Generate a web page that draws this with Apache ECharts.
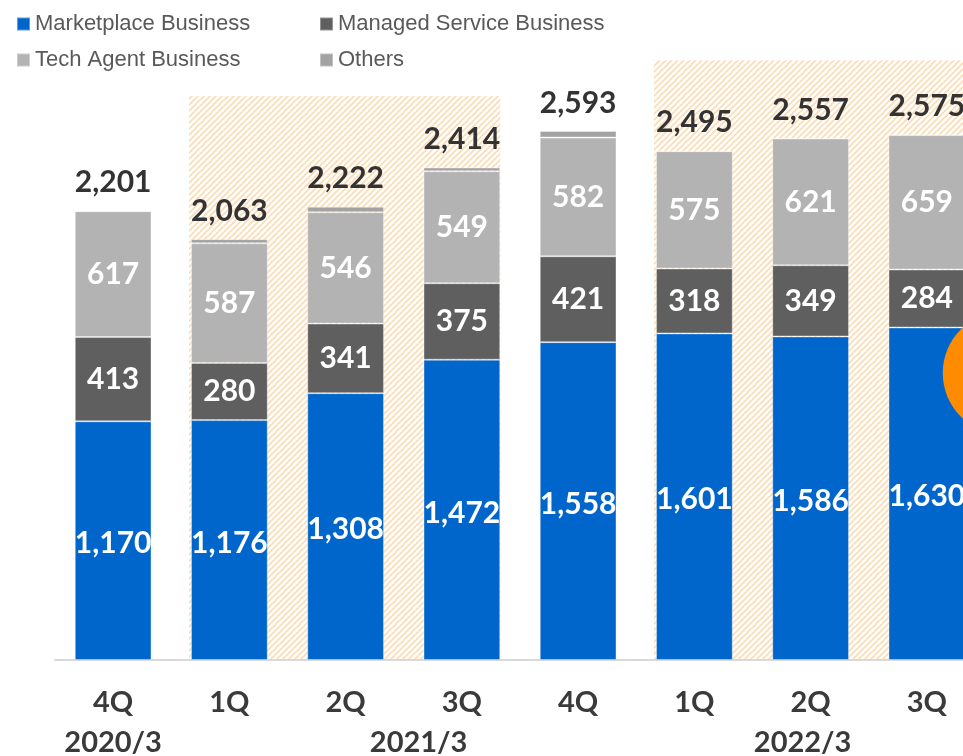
<!DOCTYPE html>
<html>
<head>
<meta charset="utf-8">
<script src="https://cdn.jsdelivr.net/npm/echarts@6/dist/echarts.min.js"></script>
<style>
html,body{margin:0;padding:0;background:#fff;}
#c{width:963px;height:756px;}
</style>
</head>
<body>
<div id="c"></div>
<script>
// ---- data ----
const quarters = ['4Q','1Q','2Q','3Q','4Q','1Q','2Q','3Q'];
const fiscalYears = ['2020/3','','2021/3','','','','2022/3',''];
const marketplace = [1170,1176,1308,1472,1558,1601,1586,1630];
const managed = [413,280,341,375,421,318,349,284];
const techAgent = [617,587,546,549,582,575,621,659];
const others = [1,20,27,18,32,1,1,2];
const totals = [2201,2063,2222,2414,2593,2495,2557,2575];
// shaded periods: [startIndex, endIndex, topValue]
const shadedPeriods = [[1,3,2765],[5,7,2940]];

// ---- hatch pattern ----
function makeHatch(){
  const s = 6;
  const cv = document.createElement('canvas');
  cv.width = s; cv.height = s;
  const ctx = cv.getContext('2d');
  ctx.fillStyle = '#ffffff';
  ctx.fillRect(0,0,s,s);
  ctx.strokeStyle = '#fbdcb6';
  ctx.lineWidth = 1.6;
  ctx.beginPath();
  ctx.moveTo(-1, s+1); ctx.lineTo(s+1, -1);
  ctx.moveTo(-1, 1); ctx.lineTo(1, -1);
  ctx.moveTo(s-1, s+1); ctx.lineTo(s+1, s-1);
  ctx.stroke();
  return cv;
}
const hatch = {image: makeHatch(), repeat: 'repeat'};

const FONT = 'Lato';
const BAR_W = 0.66;
const fmt = function(p){ return Number(p.value).toLocaleString('en-US'); };
const border = {borderColor: 'rgba(255,255,255,0.35)', borderWidth: 1};
const inLabel = {show: true, position: 'inside', color: '#ffffff', fontFamily: FONT, fontWeight: 'bold', fontSize: 30, formatter: fmt};

const chart = echarts.init(document.getElementById('c'), null, {renderer: 'canvas'});

const legendText = {fontFamily: '"Liberation Sans", sans-serif', fontSize: 22, color: '#595959'};
function lg(name, left, top){
  return {data: [name], left: left, top: top, icon: 'rect', itemWidth: 13, itemHeight: 13, itemGap: 0,
          selectedMode: false, textStyle: legendText, padding: 0};
}

chart.setOption({
  animation: false,
  backgroundColor: '#ffffff',
  legend: [
    lg('Marketplace Business', 16, 13),
    lg('Managed Service Business', 319, 13),
    lg('Tech Agent Business', 16, 49),
    lg('Others', 319, 49)
  ],
  grid: {left: 55, right: -22, top: 48, bottom: 96, containLabel: false, outerBoundsMode: 'none'},
  xAxis: [{
    type: 'category', data: quarters,
    axisLine: {lineStyle: {color: '#d9d9d9', width: 2}},
    axisTick: {show: false},
    axisLabel: {interval: 0, margin: 28, fontFamily: FONT, fontWeight: 'bold', fontSize: 29, color: '#3a3a3a'}
  },{
    type: 'category', data: fiscalYears, position: 'bottom', gridIndex: 0,
    axisLine: {show: false}, axisTick: {show: false},
    axisLabel: {
      interval: 0, margin: 68,
      formatter: function(v, i){
        if (!v) return '';
        if (i === 2) return '{r|' + v + '}';
        if (i === 6) return '{l|' + v + '}';
        return '{n|' + v + '}';
      },
      rich: {
        n: {fontFamily: FONT, fontWeight: 'bold', fontSize: 29, color: '#3a3a3a'},
        r: {fontFamily: FONT, fontWeight: 'bold', fontSize: 29, color: '#3a3a3a', padding: [0,0,0,146]},
        l: {fontFamily: FONT, fontWeight: 'bold', fontSize: 29, color: '#3a3a3a', padding: [0,16,0,0]}
      }
    }
  }],
  yAxis: {type: 'value', min: 0, max: 3000, show: false},
  series: [
    {
      type: 'custom', name: 'period', z: 0, silent: true,
      data: shadedPeriods,
      encode: {x: [0,1], y: 2},
      renderItem: function(params, api){
        const s = api.coord([api.value(0), api.value(2)]);
        const e = api.coord([api.value(1), 0]);
        const bw = api.size([1, 0])[0] * BAR_W;
        return {type: 'rect', shape: {x: s[0] - bw/2 - 2, y: s[1], width: e[0] - s[0] + bw + 2, height: e[1] - s[1]},
                style: {fill: hatch}};
      }
    },
    {name: 'Marketplace Business', type: 'bar', stack: 'a', barWidth: '66%', data: marketplace,
     itemStyle: Object.assign({color: '#0066cc'}, border), label: Object.assign({offset: [0, 3]}, inLabel), z: 2},
    {name: 'Managed Service Business', type: 'bar', stack: 'a', data: managed,
     itemStyle: Object.assign({color: '#5f5f5f'}, border), label: inLabel, z: 2},
    {name: 'Tech Agent Business', type: 'bar', stack: 'a', data: techAgent,
     itemStyle: Object.assign({color: '#b3b3b3'}, border), label: inLabel, z: 2},
    {name: 'Others', type: 'bar', stack: 'a', data: others,
     itemStyle: Object.assign({color: '#a3a3a3'}, border), z: 2,
     label: {show: true, position: 'top', distance: 13, color: '#333333', fontFamily: FONT, fontWeight: 'bold', fontSize: 30,
             formatter: function(p){ return totals[p.dataIndex].toLocaleString('en-US'); }}}
  ]
});

// orange annotation circle next to the last bar
const pc = chart.convertToPixel({xAxisIndex: 0, yAxisIndex: 0}, [7, 1407]);
const step = chart.convertToPixel({xAxisIndex: 0}, 1) - chart.convertToPixel({xAxisIndex: 0}, 0);
chart.setOption({
  graphic: [{type: 'circle', z: 100, shape: {cx: pc[0] + step * 0.67, cy: pc[1], r: 62}, style: {fill: '#ff8c00'}}]
});
</script>
</body>
</html>
